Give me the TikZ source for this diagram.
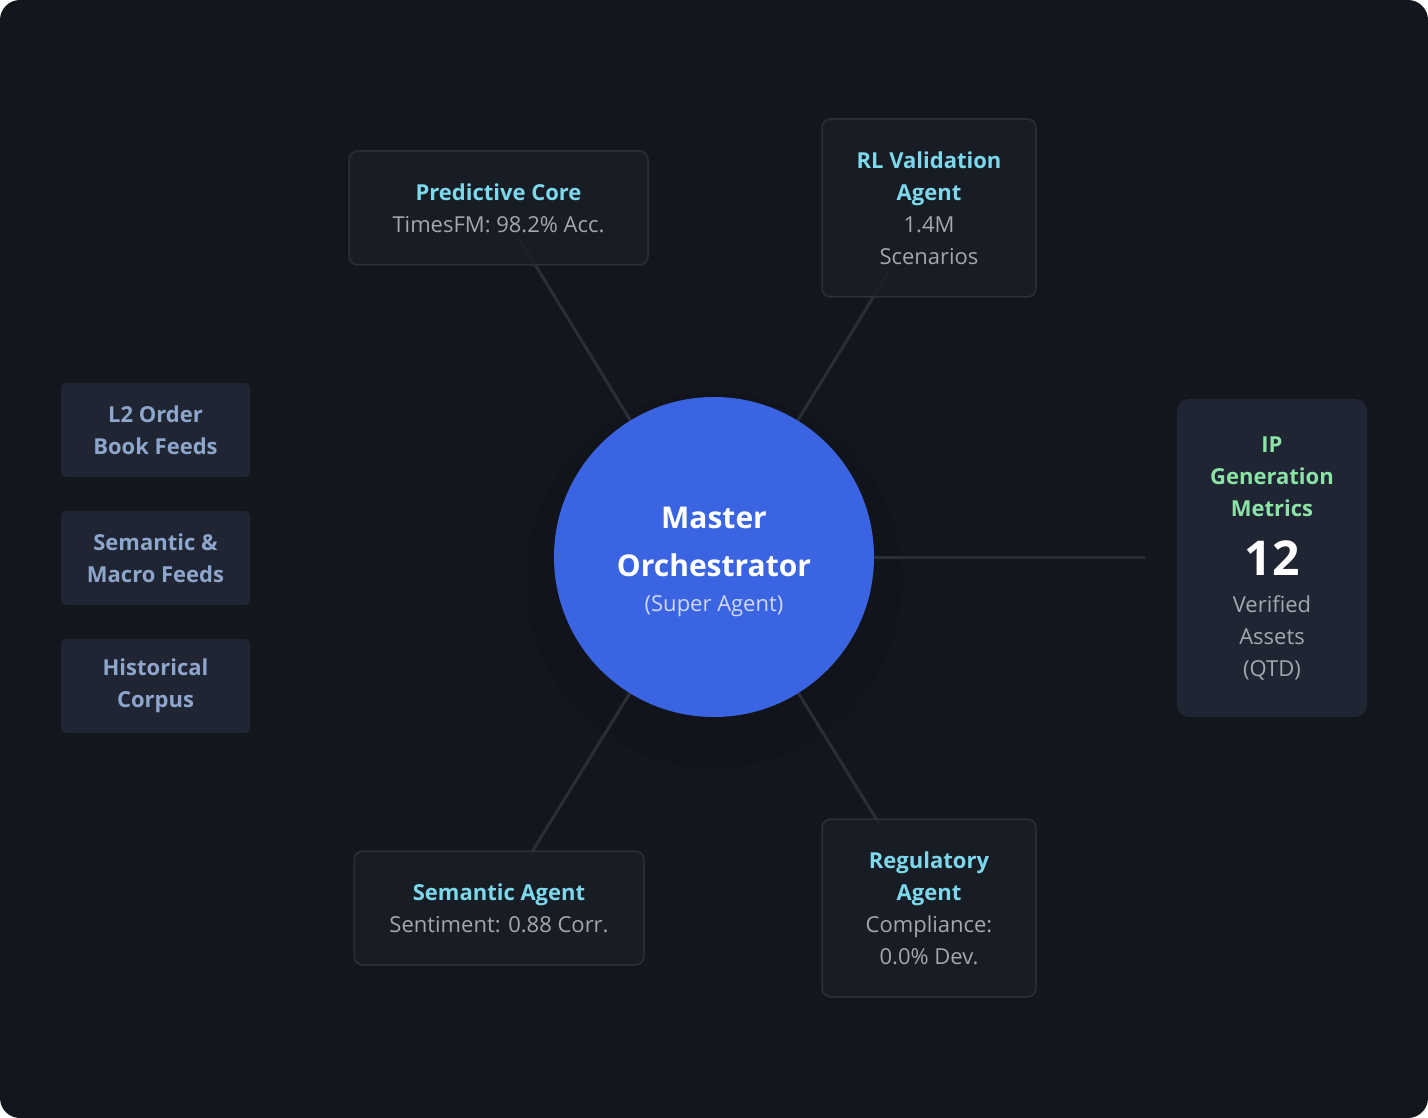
\documentclass[tikz,border=0pt]{standalone}
\usepackage{fontspec}
\setmainfont{Open Sans}
\definecolor{bg}{HTML}{13161D}
\definecolor{boxf}{HTML}{1A1E26}
\definecolor{boxd}{HTML}{2A2F38}
\definecolor{feed}{HTML}{1F2533}
\definecolor{feedt}{HTML}{8EA6CC}
\definecolor{cyan}{HTML}{7DD8EC}
\definecolor{grayt}{HTML}{A3A7AE}
\definecolor{green}{HTML}{8BE3A5}
\definecolor{blue}{HTML}{3B64E2}
\definecolor{linec}{HTML}{2A2E36}
\begin{document}
\begin{tikzpicture}[x=1pt,y=-1pt,
 agent/.style={draw=boxd,line width=1.5pt,fill=boxf,fill opacity=0.85,text opacity=1,rounded corners=9pt,align=center,font=\fontsize{22}{32}\selectfont,text=grayt},
 feedbox/.style={fill=feed,rounded corners=5pt,align=center,font=\fontsize{22}{32}\selectfont\bfseries,text=feedt,minimum width=189pt,minimum height=94pt},
 conn/.style={draw=linec,line width=3pt}]
\fill[bg,rounded corners=20pt] (0,0) rectangle (1428,1118);
\useasboundingbox (0,0) rectangle (1428,1118);
\fill[black,opacity=0.07] (714,580) circle (188);
\coordinate (c) at (714,557);
\coordinate (pc) at (520,240);
\coordinate (rl) at (890,270);
\coordinate (sa) at (530,855);
\coordinate (ra) at (880,825);
\coordinate (ipl) at (1145,557);
\draw[conn] (c) -- (pc); \draw[conn] (c) -- (rl); \draw[conn] (c) -- (sa); \draw[conn] (c) -- (ra); \draw[conn] (c) -- (ipl);
\node[agent,minimum width=299pt,minimum height=114pt] (p) at (498.5,208) {\textcolor{cyan}{\bfseries Predictive Core}\\TimesFM: 98.2\% Acc.};
\node[agent,minimum width=214pt,minimum height=178pt] (r) at (929,208) {\textcolor{cyan}{\bfseries RL Validation}\\\textcolor{cyan}{\bfseries Agent}\\1.4M\\Scenarios};
\node[agent,minimum width=290pt,minimum height=114pt] (s) at (499,908) {\textcolor{cyan}{\bfseries Semantic Agent}\\Sentiment: 0.88 Corr.};
\node[agent,minimum width=214pt,minimum height=178pt] (g) at (929,908) {\textcolor{cyan}{\bfseries Regulatory}\\\textcolor{cyan}{\bfseries Agent}\\Compliance:\\0.0\% Dev.};
\node[feedbox] (f1) at (155.5,430) {L2 Order\\Book Feeds};
\node[feedbox] (f2) at (155.5,558) {Semantic \&\\Macro Feeds};
\node[feedbox] (f3) at (155.5,686) {Historical\\Corpus};
\node[fill=feed,rounded corners=12pt,minimum width=190pt,minimum height=318pt] (ip) at (1272,558) {};
\node[align=center,font=\fontsize{22}{32}\selectfont\bfseries,text=green] at (1272,477) {IP\\Generation\\Metrics};
\node[font=\fontsize{48}{50}\selectfont\bfseries,text=white] at (1272,558) {12};
\node[align=center,font=\fontsize{22}{32}\selectfont,text=grayt] at (1272,638) {Verified\\Assets\\(QTD)};
\node[circle,fill=blue,minimum size=320pt] (m) at (c) {};
\node[align=center,font=\fontsize{30}{48}\selectfont\bfseries,text=white] at (714,542) {Master\\Orchestrator};
\node[font=\fontsize{22}{26}\selectfont,text=white!75!blue] at (714,606) {(Super Agent)};
\end{tikzpicture}
\end{document}
